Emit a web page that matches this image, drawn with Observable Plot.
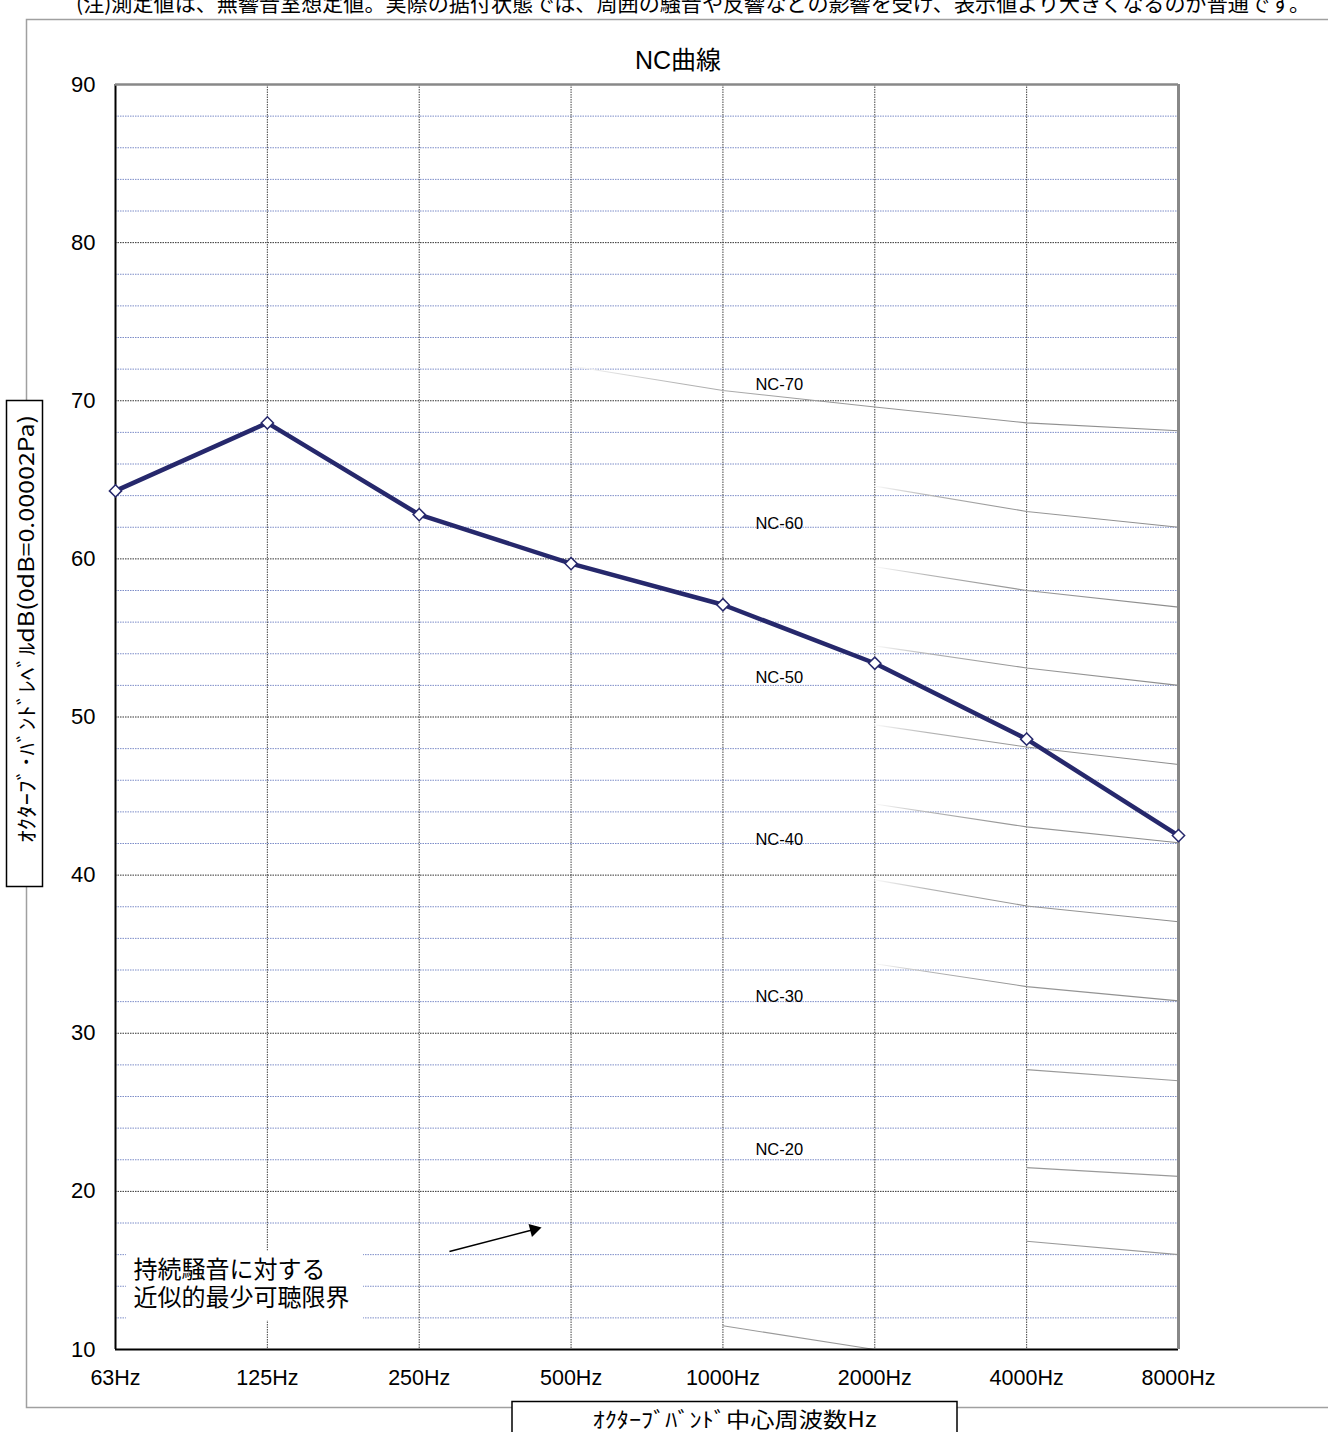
<!DOCTYPE html>
<html><head><meta charset="utf-8">
<script src="https://cdn.jsdelivr.net/npm/d3@7"></script>
<script src="https://cdn.jsdelivr.net/npm/@observablehq/plot@0.6"></script>
<style>
html,body{margin:0;padding:0;background:#fff;}
#chart{position:relative;width:1328px;height:1432px;overflow:hidden;}
</style></head><body><div id="chart"></div>
<script>
// ---- data ----
const bands = ["63Hz","125Hz","250Hz","500Hz","1000Hz","2000Hz","4000Hz","8000Hz"];
const measured = [64.3, 68.6, 62.8, 59.7, 57.1, 53.4, 48.6, 42.5];
const ncNames = ["NC-70","NC-60","NC-55","NC-50","NC-45","NC-40","NC-35","NC-30","NC-25","NC-20","NC-15","NC-10"];
const ncValues = [
  [null, null, null, 72.2, 70.65, 69.6, 68.6, 68.1],
  [null, null, null, null, null, 64.6, 63.0, 62.0],
  [null, null, null, null, null, 59.5, 58.0, 56.95],
  [null, null, null, null, null, 54.5, 53.1, 52.0],
  [null, null, null, null, null, 49.5, 48.1, 47.0],
  [null, null, null, null, null, 44.5, 43.05, 42.05],
  [null, null, null, null, null, 39.7, 38.05, 37.05],
  [null, null, null, null, null, 34.4, 32.95, 32.05],
  [null, null, null, null, null, null, 27.7, 27.0],
  [null, null, null, null, null, null, 21.5, 20.95],
  [null, null, null, null, null, null, 16.85, 16.0],
  [null, null, null, null, 11.5, 10.0, null, null]
];
const ncLabels = ["NC-70","NC-60","NC-50","NC-40","NC-30","NC-20"];
const ncLabelLevels = [71.0, 62.2, 52.5, 42.25, 32.3, 22.65];
const yTicks = [10, 20, 30, 40, 50, 60, 70, 80, 90];
const yMinor = [12,14,16,18,22,24,26,28,32,34,36,38,42,44,46,48,52,54,56,58,62,64,66,68,72,74,76,78,82,84,86,88];
const noteText = "(注)測定値は、無響音室想定値。実際の据付状態では、周囲の騒音や反響などの影響を受け、表示値より大きくなるのが普通です。";
const titleText = "NC曲線";
const yLabelText = "ｵｸﾀｰﾌﾞ･ﾊﾞﾝﾄﾞﾚﾍﾞﾙdB(0dB=0.00002Pa)";
const xLabelText = "ｵｸﾀｰﾌﾞﾊﾞﾝﾄﾞ中心周波数Hz";
const annotationLines = ["持続騒音に対する", "近似的最少可聴限界"];

// ---- tables ----
const measuredRows = measured.map((v, i) => ({band: i, value: v}));
const ncRows = ncNames.flatMap((n, k) => ncValues[k].map((v, i) => ({name: n, band: i, value: v})).filter(d => d.value != null));
const faded = new Set(ncNames.slice(0, 8));

const CJK = "'Noto Sans CJK JP', sans-serif";
const navy = "#26286c";

const svgNode = Plot.plot({
  width: 1328, height: 1432,
  marginLeft: 115, marginRight: 150, marginTop: 84, marginBottom: 83,
  style: {fontFamily: "'Liberation Sans', Arial, sans-serif", fontSize: "20px", background: "white", color: "black"},
  x: {domain: [0, 7], label: null},
  y: {domain: [10, 90], label: null},
  marks: [
    Plot.ruleY(yMinor, {stroke: "#7d8dc8", strokeDasharray: "1.5,1", strokeWidth: 1}),
    Plot.ruleY(yTicks.slice(1, -1), {stroke: "#333", strokeDasharray: "1.5,1", strokeWidth: 1}),
    Plot.ruleX(d3.range(1, 7), {stroke: "#444", strokeDasharray: "1.5,1", strokeWidth: 1}),
    Plot.line(ncRows.filter(d => faded.has(d.name)), {x: "band", y: "value", z: "name", stroke: "url(#ncfade)", strokeWidth: 1.1}),
    Plot.line(ncRows.filter(d => !faded.has(d.name)), {x: "band", y: "value", z: "name", stroke: "#9a9a9a", strokeWidth: 1.1}),
    Plot.rect([0], {x1: () => 0.072, x2: () => 1.633, y1: () => 11.8, y2: () => 16.22, fill: "white"}),
    Plot.ruleX([0], {stroke: "black", strokeWidth: 2}),
    Plot.ruleY([10], {stroke: "black", strokeWidth: 2}),
    Plot.ruleY([90], {stroke: "#888", strokeWidth: 2.5}),
    Plot.ruleX([7], {stroke: "#888", strokeWidth: 3}),
    Plot.axisY({ticks: yTicks, tickSize: 0, tickPadding: 20, fontSize: 22, label: null}),
    Plot.axisX({ticks: d3.range(8), tickFormat: i => bands[i], tickSize: 0, tickPadding: 20, fontSize: 21.5, label: null}),
    Plot.line(measuredRows, {x: "band", y: "value", stroke: navy, strokeWidth: 4.5}),
    Plot.dot(measuredRows, {x: "band", y: "value", symbol: "diamond2", r: 5.5, fill: "white", stroke: navy, strokeWidth: 1.5}),
    Plot.text(ncLabels, {x: () => 4.214, y: (d, i) => ncLabelLevels[i], text: d => d, textAnchor: "start", fontSize: 16.5, fill: "black"}),
    Plot.text(annotationLines, {x: () => 0.1185, y: (d, i) => [15.0, 13.25][i], text: d => d, textAnchor: "start", fontSize: 24, fontFamily: CJK, fill: "black"}),
    Plot.link([0], {x1: () => 2.199, y1: () => 16.2, x2: () => 2.756, y2: () => 17.59, stroke: "black", strokeWidth: 1.5}),
    Plot.dot([0], {x: () => 2.756, y: () => 17.59, symbol: "triangle", r: 5, fill: "black", rotate: 75.4})
  ]
});

const svg = d3.select(svgNode);
// gradient for the fading NC curves
const defs = svg.insert("defs", ":first-child");
const g = defs.append("linearGradient").attr("id", "ncfade").attr("x1", 0).attr("x2", 1).attr("y1", 0).attr("y2", 0);
g.append("stop").attr("offset", 0).attr("stop-color", "#fbfbfb");
g.append("stop").attr("offset", 0.18).attr("stop-color", "#b4b4b4");
g.append("stop").attr("offset", 0.4).attr("stop-color", "#9a9a9a");
g.append("stop").attr("offset", 1).attr("stop-color", "#8c8c8c");

// outer chart border (behind everything)
svg.insert("rect", "defs + *").attr("x", 26.5).attr("y", 19.5).attr("width", 1400).attr("height", 1388)
  .attr("fill", "none").attr("stroke", "#a0a0a0").attr("stroke-width", 1.5);

// note at top (cut off by the page edge, as in the original)
svg.append("text").attr("x", 76).attr("y", 11).attr("text-anchor", "start")
  .attr("font-family", "'Noto Sans CJK JP', serif").attr("font-size", 21)
  .attr("textLength", 1234).attr("lengthAdjust", "spacingAndGlyphs").attr("fill", "black").text(noteText);

// title
svg.append("text").attr("x", 678).attr("y", 69).attr("text-anchor", "middle").attr("font-size", 25)
  .attr("font-family", "'Liberation Sans', " + CJK).attr("fill", "black").text(titleText);

// y label box
svg.append("rect").attr("x", 6.5).attr("y", 400.5).attr("width", 36).attr("height", 486)
  .attr("fill", "white").attr("stroke", "black").attr("stroke-width", 1.5);
svg.append("text").attr("transform", "translate(24.5,629) rotate(-90)").attr("text-anchor", "middle")
  .attr("dominant-baseline", "central").attr("font-family", CJK).attr("font-size", 21)
  .attr("textLength", 428).attr("lengthAdjust", "spacingAndGlyphs").attr("fill", "black").text(yLabelText);

// x label box
svg.append("rect").attr("x", 512).attr("y", 1401.5).attr("width", 445).attr("height", 45)
  .attr("fill", "white").attr("stroke", "black").attr("stroke-width", 1.5);
svg.append("text").attr("x", 734.5).attr("y", 1426.5).attr("text-anchor", "middle")
  .attr("font-family", CJK).attr("font-size", 21)
  .attr("textLength", 284).attr("lengthAdjust", "spacingAndGlyphs").attr("fill", "black").text(xLabelText);

document.getElementById("chart").appendChild(svgNode);
</script>
</body></html>
